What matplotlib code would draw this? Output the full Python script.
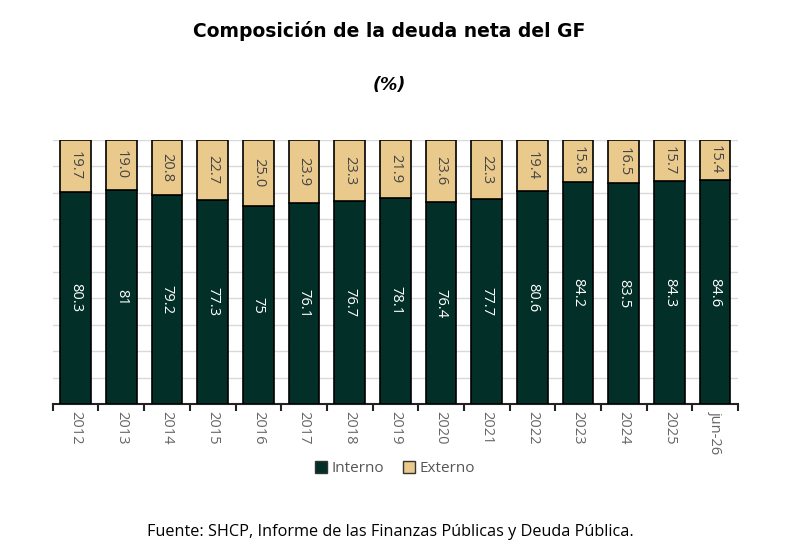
import matplotlib
matplotlib.use('Agg')
from matplotlib import pyplot as plt
from matplotlib.patches import Patch
import numpy as np

plt.rcParams['font.family'] = ['Open Sans', 'DejaVu Sans']

years = ['2012', '2013', '2014', '2015', '2016', '2017', '2018', '2019',
         '2020', '2021', '2022', '2023', '2024', '2025', 'jun-26']
interno = [80.3, 81, 79.2, 77.3, 75, 76.1, 76.7, 78.1, 76.4, 77.7, 80.6, 84.2, 83.5, 84.3, 84.6]
externo = [19.7, 19.0, 20.8, 22.7, 25.0, 23.9, 23.3, 21.9, 23.6, 22.3, 19.4, 15.8, 16.5, 15.7, 15.4]
interno_labels = ['80.3', '81', '79.2', '77.3', '75', '76.1', '76.7', '78.1', '76.4', '77.7',
                  '80.6', '84.2', '83.5', '84.3', '84.6']
externo_labels = ['19.7', '19.0', '20.8', '22.7', '25.0', '23.9', '23.3', '21.9', '23.6', '22.3',
                  '19.4', '15.8', '16.5', '15.7', '15.4']

GREEN = '#022f27'
TAN = '#eac98c'

fig = plt.figure(figsize=(8, 5.59), dpi=100)
ax = fig.add_axes([0.066, 0.277, 0.8565, 0.473])

x = np.arange(len(years))
ax.bar(x, interno, width=0.67, color=GREEN, edgecolor='black', linewidth=1.2, zorder=3)
ax.bar(x, externo, width=0.67, bottom=interno, color=TAN, edgecolor='black', linewidth=1.2, zorder=3)

for i in range(len(years)):
    ax.text(x[i], interno[i] / 2, interno_labels[i], rotation=270, ha='center', va='center',
            color='white', fontsize=10.5, zorder=4)
    ax.text(x[i], interno[i] + externo[i] / 2, externo_labels[i], rotation=270, ha='center',
            va='center', color='#444444', fontsize=10.5, zorder=4)

ax.set_xlim(-0.5, len(years) - 0.5)
ax.set_ylim(0, 100)
ax.set_yticks(np.arange(0, 101, 10))
ax.set_yticklabels([])
ax.tick_params(axis='y', length=0)
ax.grid(axis='y', color='#d9d9d9', linewidth=1, zorder=0)

ax.set_xticks(x)
ax.set_xticklabels(years, rotation=270, color='#666666', fontsize=10.5)
ax.tick_params(axis='x', length=0, pad=5)
ax.set_xticks(np.arange(-0.5, len(years), 1), minor=True)
ax.tick_params(axis='x', which='minor', length=5, width=1.5, color='#222222')

for side in ['left', 'right', 'top']:
    ax.spines[side].set_visible(False)
ax.spines['bottom'].set_color('#222222')
ax.spines['bottom'].set_linewidth(1.5)

fig.text(0.487, 0.944, 'Composición de la deuda neta del GF', ha='center', va='center',
         fontsize=13.5, fontweight='bold', color='black', family='DejaVu Sans')
fig.text(0.487, 0.848, '(%)', ha='center', va='center', fontsize=12.5,
         fontweight='bold', fontstyle='italic', color='black', family='DejaVu Sans')

handles = [Patch(facecolor=GREEN, edgecolor='#333333', label='Interno'),
           Patch(facecolor=TAN, edgecolor='#333333', label='Externo')]
fig.legend(handles=handles, loc='center', bbox_to_anchor=(0.494, 0.162), ncol=2, frameon=False,
           fontsize=11, handlelength=0.8, handleheight=0.8, handletextpad=0.3, columnspacing=1.2,
           labelcolor='#555555')

fig.text(0.488, 0.048, 'Fuente: SHCP, Informe de las Finanzas Públicas y Deuda Pública.',
         ha='center', va='center', fontsize=11.7, color='black')

fig.savefig('out.png', dpi=100)
